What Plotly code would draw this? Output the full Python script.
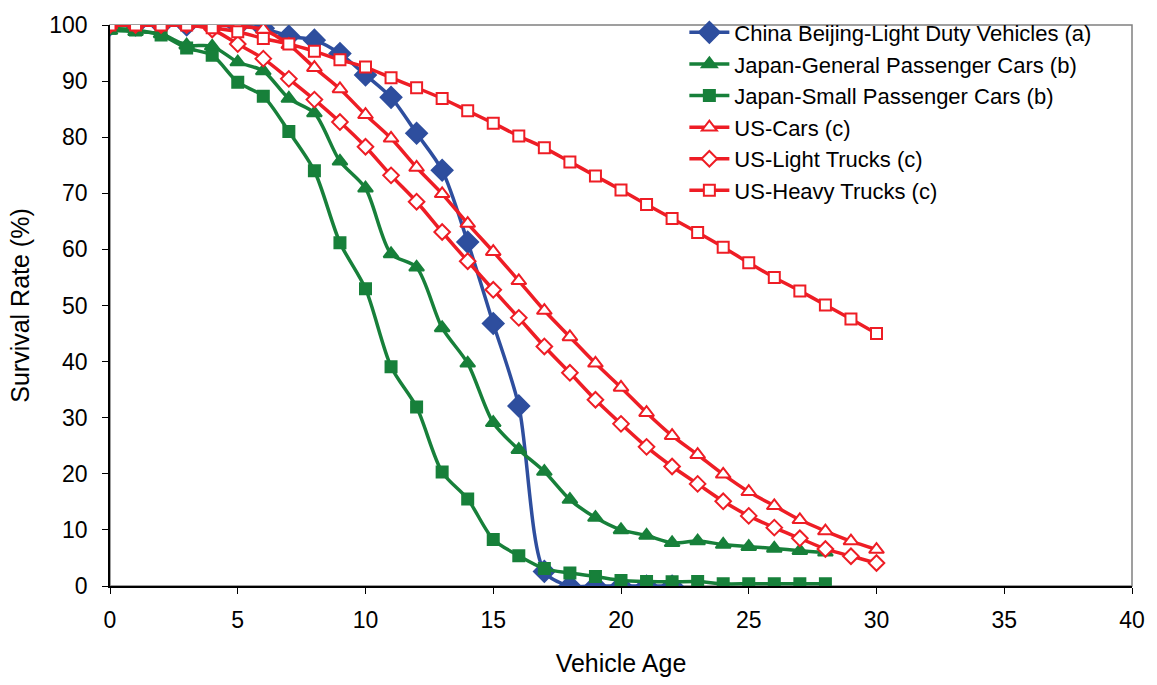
import plotly.graph_objects as go

# Vehicle age (years) for each data source
ages_china = list(range(0, 23))
ages_japan = list(range(0, 29))
ages_us = list(range(0, 31))

# Survival rate (%) by vehicle age
china_ldv = [100, 100, 100, 100, 100, 99.8, 99.4, 98.0, 97.3, 94.9, 91.1, 87.1,
             80.7, 74.1, 61.3, 46.8, 32.1, 2.6, 0, 0, 0, 0, 0]
japan_general = [99.0, 98.8, 98.4, 96.4, 96.2, 93.4, 91.8, 86.9, 84.3, 75.7, 70.9,
                 59.2, 56.8, 46.0, 39.7, 29.1, 24.3, 20.4, 15.4, 12.2, 10.0, 9.0,
                 7.7, 8.0, 7.4, 7.0, 6.7, 6.3, 6.0]
japan_small = [99.4, 99.1, 98.2, 95.9, 94.6, 89.8, 87.3, 81.0, 74.0, 61.2, 53.0,
               39.1, 31.9, 20.3, 15.5, 8.3, 5.4, 3.1, 2.3, 1.7, 1.0, 0.8, 0.75,
               0.8, 0.4, 0.4, 0.4, 0.4, 0.4]
us_cars = [100, 100, 100, 100, 100, 99.8, 99.2, 96.5, 92.4, 88.6, 84.0, 79.8, 74.6,
           69.9, 64.6, 59.6, 54.4, 49.1, 44.4, 39.7, 35.4, 30.9, 26.8, 23.4, 19.9,
           16.8, 14.3, 11.8, 9.8, 8.0, 6.5]
us_light_trucks = [100, 100, 100, 100, 99.2, 96.6, 94.0, 90.4, 86.7, 82.7, 78.3,
                   73.2, 68.5, 63.1, 57.9, 52.8, 47.8, 42.7, 38.0, 33.2, 28.9, 24.8,
                   21.3, 18.2, 15.1, 12.5, 10.4, 8.5, 6.6, 5.3, 4.1]
us_heavy_trucks = [100, 100, 100, 100, 99.5, 98.8, 97.6, 96.6, 95.3, 93.8, 92.5,
                   90.6, 88.8, 86.9, 84.7, 82.5, 80.2, 78.1, 75.6, 73.1, 70.6, 68.0,
                   65.5, 63.0, 60.4, 57.6, 55.0, 52.6, 50.1, 47.6, 45.0]

BLUE = "#2E4E9E"
GREEN = "#17803A"
RED = "#EE1D25"
FONT = "Liberation Sans, Arial, sans-serif"

series = [
    ("China Beijing-Light Duty Vehicles (a)", ages_china, china_ldv, BLUE, "diamond", BLUE, 16),
    ("Japan-General Passenger Cars (b)", ages_japan, japan_general, GREEN, "triangle-up", GREEN, 13),
    ("Japan-Small Passenger Cars (b)", ages_japan, japan_small, GREEN, "square", GREEN, 11),
    ("US-Cars (c)", ages_us, us_cars, RED, "triangle-up", "white", 13),
    ("US-Light Trucks (c)", ages_us, us_light_trucks, RED, "diamond", "white", 12),
    ("US-Heavy Trucks (c)", ages_us, us_heavy_trucks, RED, "square", "white", 11),
]

fig = go.Figure()
for name, x, y, color, symbol, fill, size in series:
    fig.add_trace(go.Scatter(
        x=x, y=y, name=name, mode="lines+markers",
        line=dict(color=color, width=3.5, shape="spline", smoothing=0.8),
        marker=dict(symbol=symbol, size=size, color=fill,
                    line=dict(color=color, width=2)),
    ))

# light grey frame on the top and right of the plotting area
fig.add_shape(type="rect", xref="paper", yref="paper", x0=0, y0=0, x1=1, y1=1,
              line=dict(color="#808080", width=1.5), layer="below")

fig.update_layout(
    width=1157, height=685,
    margin=dict(l=110, r=23, t=15, b=98),
    plot_bgcolor="white", paper_bgcolor="white",
    font=dict(family=FONT, size=23, color="black"),
    showlegend=True,
    legend=dict(x=0.562, y=1.024, xanchor="left", yanchor="top",
                bgcolor="rgba(0,0,0,0)", font=dict(size=22),
                itemwidth=40),
    xaxis=dict(range=[0, 40], dtick=5, showgrid=False, zeroline=False,
               showline=True, linecolor="black", linewidth=1.5,
               ticks="outside", ticklen=6, tickcolor="black",
               ticklabelstandoff=7,
               title=dict(text="Vehicle Age", font=dict(size=25), standoff=22)),
    yaxis=dict(range=[0, 100], dtick=10, showgrid=False, zeroline=False,
               showline=True, linecolor="black", linewidth=1.5,
               ticks="outside", ticklen=6, tickcolor="black",
               ticklabelstandoff=10,
               title=dict(text="Survival Rate (%)", font=dict(size=25), standoff=13)),
)

fig.write_html("out.html")
